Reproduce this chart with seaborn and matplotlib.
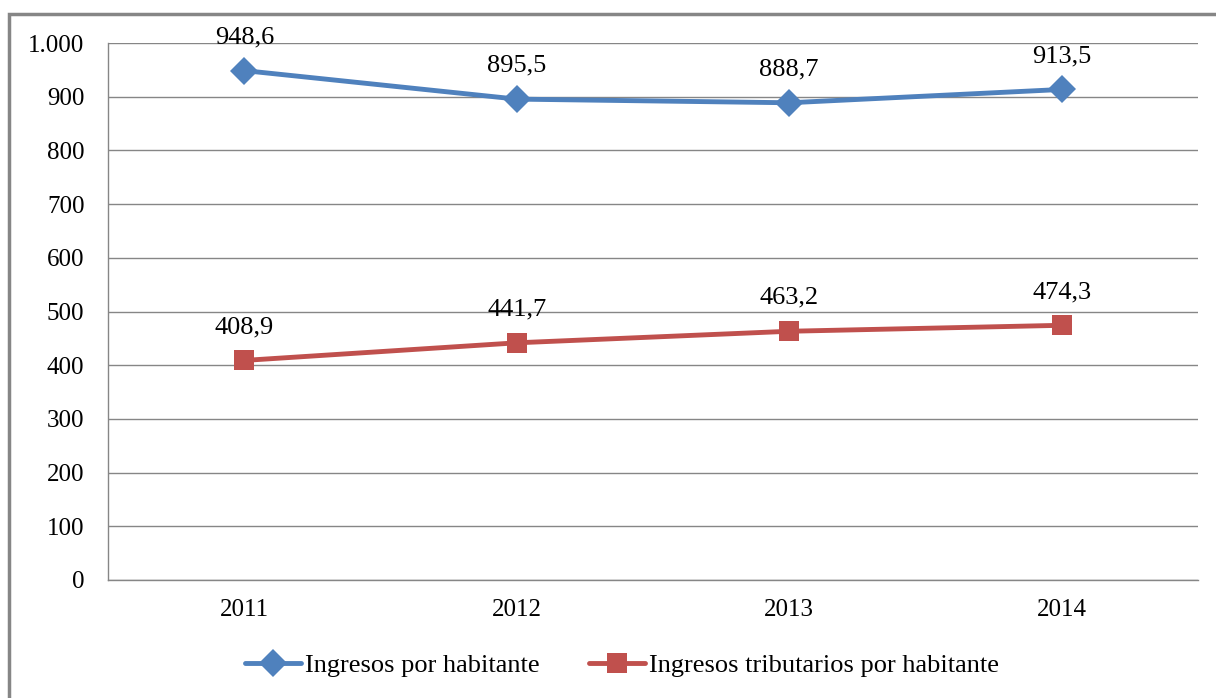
import numpy as np
import pandas as pd
import matplotlib
matplotlib.use("Agg")
import matplotlib.pyplot as plt
import seaborn as sns
from matplotlib.patches import Rectangle
from matplotlib.ticker import FuncFormatter, FixedLocator

# data
years = ["2011", "2012", "2013", "2014"]
ingresos = [948.6, 895.5, 888.7, 913.5]
tributarios = [408.9, 441.7, 463.2, 474.3]
series_names = ["Ingresos por habitante", "Ingresos tributarios por habitante"]

df = pd.DataFrame({
    "year": years * 2,
    "valor": ingresos + tributarios,
    "serie": [series_names[0]] * 4 + [series_names[1]] * 4,
})
df["pos"] = list(range(len(years))) * 2

sns.set_style("white")
plt.rcParams["font.family"] = ["Liberation Serif", "DejaVu Serif"]
plt.rcParams["text.color"] = "black"
plt.rcParams["xtick.labelcolor"] = "black"
plt.rcParams["ytick.labelcolor"] = "black"

fig = plt.figure(figsize=(12.16, 6.98), dpi=100)
ax = fig.add_axes([108 / 1216, 1 - 580 / 698, (1198 - 108) / 1216, (580 - 43) / 698])

colors = {series_names[0]: "#4F81BD", series_names[1]: "#C0504D"}
markers = {series_names[0]: "D", series_names[1]: "s"}
sizes = {series_names[0]: 14, series_names[1]: 15}

for name in series_names:
    sub = df[df.serie == name]
    sns.lineplot(data=sub, x="pos", y="valor", ax=ax, color=colors[name],
                 marker=markers[name], markersize=sizes[name], linewidth=3.5,
                 markeredgewidth=0, label=name)
    # value labels above each point, comma decimal
    for p, v in zip(sub.pos, sub.valor):
        ax.annotate(f"{v:.1f}".replace(".", ","), (p, v), xytext=(0, 24),
                    textcoords="offset points", ha="center", va="center", fontsize=19)

ax.set_xlim(-0.5, len(years) - 0.5)
ax.set_ylim(0, 1000)
ax.set_yticks(np.arange(0, 1001, 100))
ax.yaxis.set_major_formatter(FuncFormatter(lambda v, p: f"{int(v):,}".replace(",", ".")))
ax.set_xticks(range(len(years)))
ax.set_xticklabels(years)
ax.xaxis.set_minor_locator(FixedLocator(np.arange(-0.5, len(years), 1)))
ax.tick_params(axis="x", which="major", length=0, labelsize=18, pad=14)
ax.tick_params(axis="x", which="minor", length=7, width=1, color="#868686", direction="out")
ax.tick_params(axis="y", length=8, width=1, color="#868686", direction="out", labelsize=18, pad=9)
ax.grid(axis="y", color="#868686", linewidth=1)
ax.set_axisbelow(True)
ax.set_xlabel("")
ax.set_ylabel("")
for s in ["top", "right"]:
    ax.spines[s].set_visible(False)
for s in ["left", "bottom"]:
    ax.spines[s].set_color("#868686")
    ax.spines[s].set_linewidth(1)

ax.legend(loc="center", bbox_to_anchor=(622 / 1216, (698 - 665) / 698), bbox_transform=fig.transFigure,
          ncol=2, frameon=False, fontsize=19, handlelength=2.1, handletextpad=0.15,
          columnspacing=1.9)

# outer chart frame
fig.patches.append(Rectangle((9 / 1216, -0.05), 1.2, 1 - 14 / 698 + 0.05,
                             transform=fig.transFigure, fill=False,
                             edgecolor="#868686", linewidth=2.5))

fig.savefig("out.png", dpi=100, facecolor="white")
